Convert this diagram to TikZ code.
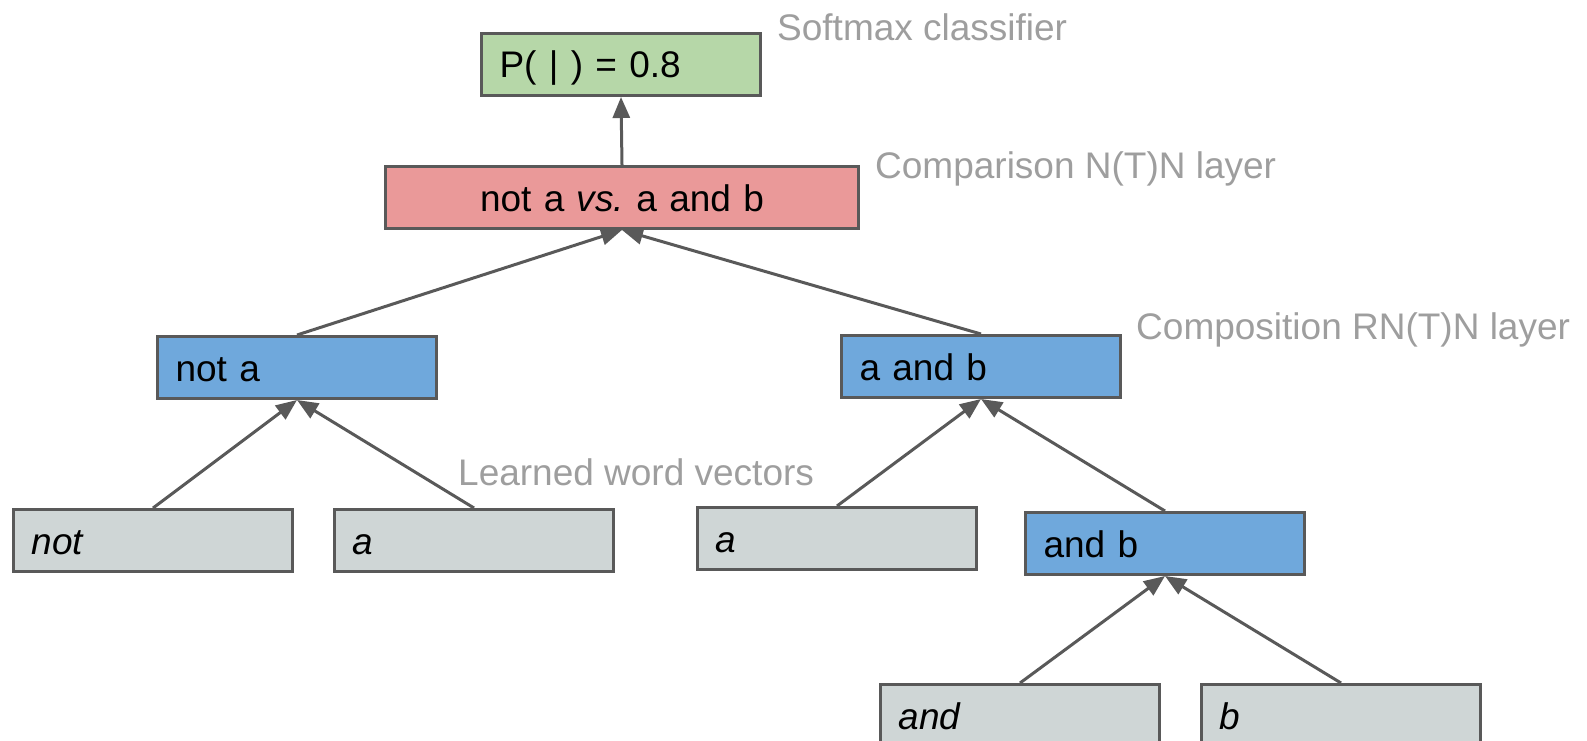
\documentclass[tikz,border=0pt]{standalone}
\usepackage{fontspec}
\setmainfont{Liberation Sans}
\frenchspacing
\usetikzlibrary{arrows.meta}
\definecolor{edgegray}{HTML}{595959}
\definecolor{labelgray}{HTML}{9E9E9E}
\definecolor{softgreen}{HTML}{B6D7A8}
\definecolor{softred}{HTML}{EA9999}
\definecolor{softblue}{HTML}{6FA8DC}
\definecolor{wordgray}{HTML}{CFD6D6}
\tikzset{
  box/.style={draw=edgegray, line width=3pt, anchor=north west,
    minimum height=62pt, inner xsep=18pt, inner ysep=0pt,
    text width=243pt, align=left, text height=27pt, text depth=0pt,
    font=\fontsize{37}{40}\selectfont},
  wordbox/.style={box, fill=wordgray},
  compbox/.style={box, fill=softblue},
  layerlabel/.style={anchor=west, text=labelgray, inner sep=0pt,
    font=\fontsize{37}{40}\selectfont},
  feed/.style={draw=edgegray, line width=3pt,
    -{Triangle[length=21pt,width=17pt]}}
}
\begin{document}
\begin{tikzpicture}[x=1pt, y=-1pt]
\useasboundingbox (0,0) rectangle (1587,741);
\clip (0,0) rectangle (1587,741);

% output and comparison layers
\node[box, fill=softgreen] (soft) at (480,32) {P( | ) = 0.8};
\node[box, fill=softred, text width=437pt, align=center] (cmp) at (384,165)
  {not a {\itshape vs.}\ a and b};

% composed phrases
\node[compbox] (nota) at (156,335) {not a};
\node[compbox] (aandb) at (840,334) {a and b};
\node[compbox] (andb) at (1024,511) {and b};

% word vectors
\node[wordbox] (wnot) at (12,508) {\itshape not};
\node[wordbox] (wa) at (333,508) {\itshape a};
\node[wordbox] (wa2) at (696,506) {\itshape a};
\node[wordbox] (wand) at (879,683) {\itshape and};
\node[wordbox] (wb) at (1200,683) {\itshape b};

% layer captions
\node[layerlabel] (lsoft) at (777,27) {Softmax classifier};
\node[layerlabel] (lcmp) at (875,169) {Comparison N(T)N layer};
\node[layerlabel] (lcomp) at (1136,330) {Composition RN(T)N layer};
\node[layerlabel] (lword) at (458,472) {Learned word vectors};

% connections
\draw[feed] (cmp.north) -- (soft.south);
\draw[feed] (nota.north) -- (cmp.south);
\draw[feed] (aandb.north) -- (cmp.south);
\draw[feed] (wnot.north) -- (nota.south);
\draw[feed] (wa.north) -- (nota.south);
\draw[feed] (wa2.north) -- (aandb.south);
\draw[feed] (andb.north) -- (aandb.south);
\draw[feed] (wand.north) -- (andb.south);
\draw[feed] (wb.north) -- (andb.south);
\end{tikzpicture}
\end{document}
